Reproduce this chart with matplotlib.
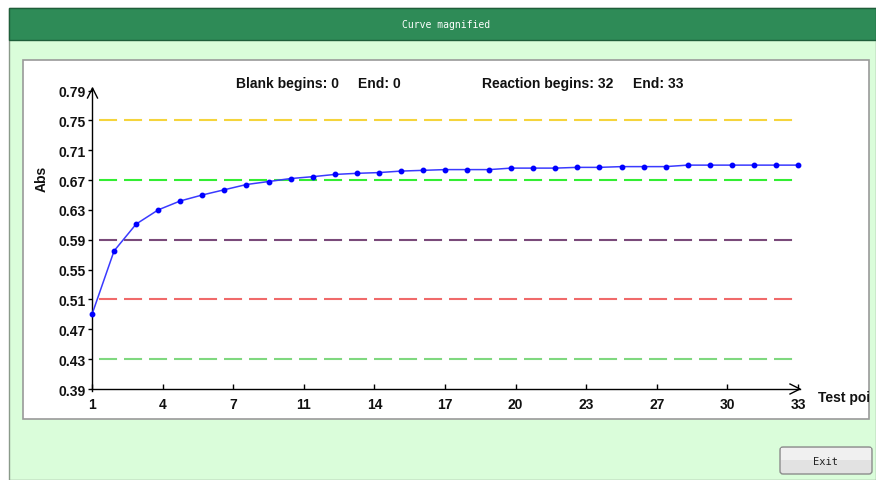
import numpy as np
import matplotlib
matplotlib.use("Agg")
import matplotlib.pyplot as plt
from matplotlib.patches import Rectangle, FancyBboxPatch
from matplotlib.lines import Line2D

# ---------------- data ----------------
test_points = list(range(1, 34))
abs_values = [0.490, 0.575, 0.611, 0.630, 0.642, 0.650, 0.657, 0.664, 0.668, 0.672,
              0.6745, 0.6775, 0.679, 0.680, 0.682, 0.683, 0.684, 0.684, 0.684, 0.686,
              0.686, 0.686, 0.687, 0.687, 0.688, 0.688, 0.688, 0.690, 0.690, 0.690,
              0.690, 0.690, 0.690]
ref_levels = [0.75, 0.67, 0.59, 0.51, 0.43]
ref_colors = ["#F5D43C", "#33EE33", "#7A4A7A", "#F06A6A", "#7FD87F"]
y_ticks = [0.39, 0.43, 0.47, 0.51, 0.55, 0.59, 0.63, 0.67, 0.71, 0.75, 0.79]
y_ticklabels = ["0.39", "0.43", "0.47", "0.51", "0.55", "0.59", "0.63", "0.67", "0.71", "0.75", "0.79"]
x_ticklabels = ["1", "4", "7", "11", "14", "17", "20", "23", "27", "30", "33"]
window_title = "Curve magnified"
blank_text = ["Blank begins: 0", "End: 0"]
reaction_text = ["Reaction begins: 32", "End: 33"]
y_label = "Abs"
x_label = "Test points"
button_text = "Exit"

W, H = 876, 481
plt.rcParams["font.family"] = ["Liberation Sans", "DejaVu Sans"]
plt.rcParams["lines.scale_dashes"] = False

fig = plt.figure(figsize=(W / 100, H / 100), dpi=100, facecolor="white")

# background axes in pixel coordinates
bg = fig.add_axes([0, 0, 1, 1], zorder=-5)
bg.set_xlim(0, W)
bg.set_ylim(H, 0)
bg.axis("off")

# window body
bg.add_patch(Rectangle((9, 9), W - 9, H - 9, facecolor="#DAFDDA", edgecolor="#8A9A8A", lw=1))
# title bar
bg.add_patch(Rectangle((9, 9), W - 9, 32, facecolor="#2E8B57", edgecolor="#1E5E3A", lw=1))
bg.text(446, 25.5, window_title, color="white", family="DejaVu Sans Mono",
        fontsize=7, ha="center", va="center")
# white panel
bg.add_patch(Rectangle((23, 61), 846, 359, facecolor="white", edgecolor="#9A9A9A", lw=1.2))
# exit button
bg.add_patch(FancyBboxPatch((780, 448), 92, 27, boxstyle="round,pad=0,rounding_size=3",
                            facecolor="#E2E2E2", edgecolor="#8C8C8C", lw=1))
bg.add_patch(Rectangle((781, 449), 90, 12, facecolor="#F0F0F0", edgecolor="none"))
bg.text(826, 462, button_text, family="DejaVu Sans Mono", fontsize=7.5,
        ha="center", va="center", color="#222222")

# axis arrow heads
bg.add_line(Line2D([92, 92], [392, 89], color="black", lw=1))
bg.add_line(Line2D([87.5, 92.5, 97.5], [99, 89, 99], color="black", lw=1))
bg.add_line(Line2D([92, 800], [390, 390], color="black", lw=1))
bg.add_line(Line2D([790, 800, 790], [385, 390, 395], color="black", lw=1))

# panel text axes (for clipping)
pan = fig.add_axes([23 / W, 1 - 420 / H, 846 / W, 359 / H], zorder=-4)
pan.set_xlim(23, 869)
pan.set_ylim(420, 61)
pan.axis("off")
tfont = dict(fontsize=10, fontweight="bold", va="center", ha="left", color="#111111")
pan.text(236, 84.5, blank_text[0], **tfont)
pan.text(358, 84.5, blank_text[1], **tfont)
pan.text(482, 84.5, reaction_text[0], **tfont)
pan.text(633, 84.5, reaction_text[1], **tfont)
pan.text(42, 179, y_label, rotation=90, fontsize=10, fontweight="bold",
         va="center", ha="center", color="#111111")
pan.text(818, 398, x_label, clip_on=True, **tfont)

# main plot axes
ax = fig.add_axes([92 / W, 1 - 390 / H, 706 / W, (390 - 91.5) / H])
ax.patch.set_visible(False)
ax.set_xlim(1, 33)
ax.set_ylim(0.39, 0.79)
for s in ["top", "right", "left", "bottom"]:
    ax.spines[s].set_visible(False)

for lvl, c in zip(ref_levels, ref_colors):
    ax.axhline(lvl, xmin=0.01, xmax=0.996, color=c, lw=1.5, dashes=(13, 5), zorder=2)

ax.plot(test_points, abs_values, color="#3A3AFF", lw=1.1, marker="o", ms=3.2,
        mfc="#0000FF", mec="#0000FF", zorder=3, clip_on=False)

ax.set_yticks(y_ticks)
ax.set_yticklabels(y_ticklabels)
ax.set_xticks(np.linspace(test_points[0], test_points[-1], len(x_ticklabels)))
ax.set_xticklabels(x_ticklabels)
ax.tick_params(axis="y", direction="out", length=3, width=1, pad=1.5,
               labelsize=10, color="black")
ax.tick_params(axis="x", direction="in", length=3.6, width=1, pad=6,
               labelsize=10, color="black")
for lab in ax.get_xticklabels() + ax.get_yticklabels():
    lab.set_fontweight("bold")
    lab.set_color("#111111")

fig.savefig("out.png", dpi=100, facecolor="white")
